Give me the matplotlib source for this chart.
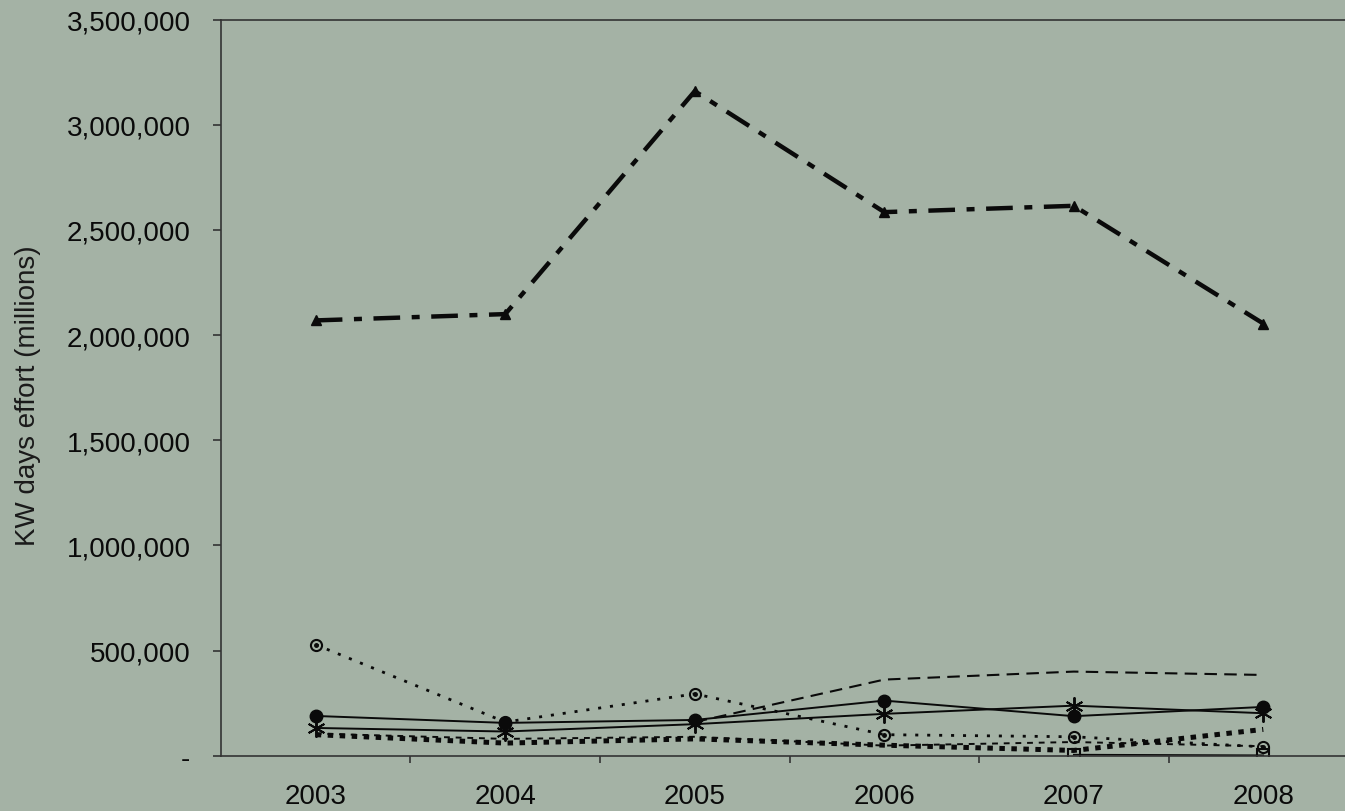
"""KW days effort by fleet segment, 2003-2008."""

import matplotlib

matplotlib.use("Agg")
import matplotlib.pyplot as plt
import numpy as np
from matplotlib.ticker import FixedLocator, FuncFormatter

plt.rcParams.update({"font.family": ["Liberation Sans", "DejaVu Sans"], "font.size": 20})

years = ["2003", "2004", "2005", "2006", "2007", "2008"]
nan = np.nan

# values
triangle_series = [2070000, 2100000, 3160000, 2585000, 2615000, 2055000]
open_circle_series = [528000, 160000, 294000, 100000, 90000, 42000]
filled_circle_series = [189000, 156000, 170000, 262000, 188000, 232000]
asterisk_series = [132000, 115000, 150000, 199000, 238000, 202000]
long_dash_series = [nan, nan, 160000, 362000, 400000, 384000]
small_dash_series = [105000, 80000, 90000, 48000, 65000, 45000]
heavy_dot_series = [100000, 60000, 80000, 50000, 25000, 125000]
square_series = [nan, nan, nan, nan, 5000, 2000]

yticks = [0, 500000, 1000000, 1500000, 2000000, 2500000, 3000000, 3500000]

BG = "#a4b2a5"
INK = "#0a0a0a"

fig = plt.figure(figsize=(13.45, 8.12), dpi=100, facecolor=BG)
ax = fig.add_axes([0.1643, 0.0681, 0.8454, 0.9064], facecolor=BG)

x = np.arange(len(years))

ax.plot(x, triangle_series, color=INK, lw=3.2, dashes=(6, 2.6, 1.8, 2.6),
        marker="^", ms=7, mfc=INK, mec=INK)
ax.plot(x, long_dash_series, color=INK, lw=1.5, dashes=(6, 3.5))
ax.plot(x, filled_circle_series, color=INK, lw=1.4, marker="o", ms=9)
ax.plot(x, asterisk_series, color=INK, lw=1.4, marker=(6, 2, 0), ms=13, mew=1.4)
ax.plot(x, small_dash_series, color=INK, lw=1.4, dashes=(3, 3))
ax.plot(x, heavy_dot_series, color=INK, lw=3.6, dashes=(1.1, 1.3))
ax.plot(x, open_circle_series, color=INK, lw=2.0, dashes=(1.1, 3.2),
        marker="o", ms=8, mfc="none", mec=INK, mew=1.5)
ax.plot(x, open_circle_series, ls="none", marker="o", ms=2.5, color=INK)
ax.plot(x, square_series, color=INK, lw=1.2, marker="s", ms=8,
        mfc="none", mec=INK, mew=1.5)

ax.set_xlim(-0.5, 5.5)
ax.set_ylim(0, 3500000)

ax.set_xticks(x)
ax.set_xticklabels(years)
ax.xaxis.set_minor_locator(FixedLocator(np.arange(0.5, 5.0, 1.0)))
ax.tick_params(axis="x", which="major", length=0, pad=20, colors=INK)
ax.tick_params(axis="x", which="minor", length=5, width=1.2, direction="out",
               color="#333333")

ax.set_yticks(yticks)
ax.yaxis.set_major_formatter(FuncFormatter(lambda v, _: "-" if v == 0 else f"{v:,.0f}"))
ax.tick_params(axis="y", length=6, width=1.2, direction="out", pad=16,
               color="#333333", labelcolor=INK)

for side in ("left", "bottom", "top"):
    ax.spines[side].set_color("#333333")
    ax.spines[side].set_linewidth(1.2)
ax.spines["right"].set_visible(False)

fig.text(0.021, 0.513, "KW days effort (millions)", rotation=90,
         ha="center", va="center", color="#1a1a1a")

fig.savefig("out.png", dpi=100, facecolor=BG)
plt.close(fig)
